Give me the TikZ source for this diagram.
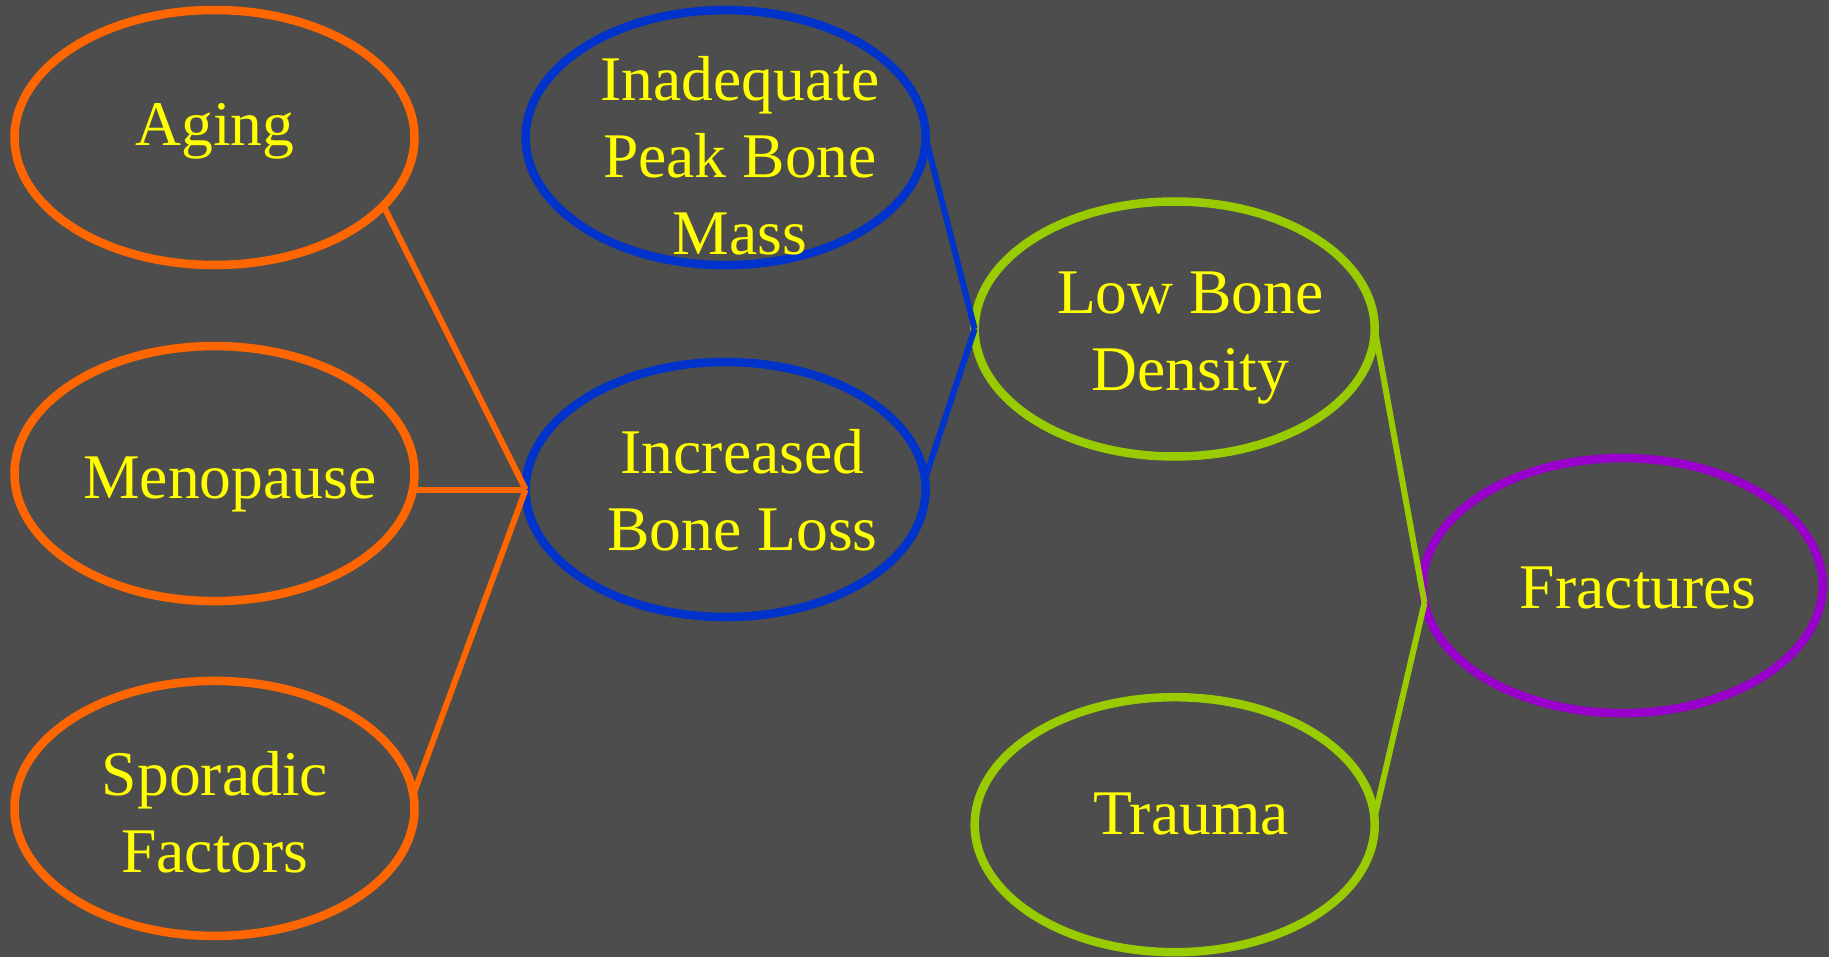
\documentclass[tikz,border=0pt]{standalone}
\usepackage{fontspec}
\setmainfont{Liberation Serif}
\usetikzlibrary{shapes.geometric}
\definecolor{bg}{HTML}{4D4D4D}
\definecolor{corange}{HTML}{FF6600}
\definecolor{cblue}{HTML}{0033CC}
\definecolor{cgreen}{HTML}{99CC00}
\definecolor{cpurple}{HTML}{9900CC}
\definecolor{ctext}{HTML}{FFFF00}
\tikzset{
  oval/.style={ellipse, draw, line width=8.5pt, inner sep=0pt, outer sep=0pt,
    minimum width=400pt, minimum height=255pt},
  lbl/.style={text=ctext, inner sep=0pt, align=center, anchor=base,
    font=\fontsize{63.6}{77}\selectfont},
  conn/.style={line width=6pt},
}
\begin{document}
\begin{tikzpicture}[x=1pt,y=-1pt]
\fill[bg] (0,0) rectangle (1829,957);
\useasboundingbox (0,0) rectangle (1829,957);
% ellipses
\node[oval, draw=corange] (aging) at (214.5,137.5) {};
\node[oval, draw=corange] (meno) at (214.5,473.6) {};
\node[oval, draw=corange] (spor) at (214.5,808.4) {};
\node[oval, draw=cblue] (inad) at (725.6,137.6) {};
\node[oval, draw=cblue] (incr) at (725.6,489.5) {};
\node[oval, draw=cgreen] (lbd) at (1174.7,329) {};
\node[oval, draw=cgreen] (trauma) at (1174.7,824.7) {};
\node[oval, draw=cpurple] (frac) at (1622.6,585.6) {};
% connectors
\draw[conn, corange] (aging.-22.4) -- (incr.west);
\draw[conn, corange] (meno.east |- incr.west) -- (incr.west);
\draw[conn, corange] (spor.4.3) -- (incr.west);
\draw[conn, cblue] (inad.east) -- (lbd.west);
\draw[conn, cblue] (incr.3) -- (lbd.west);
\draw[conn, cgreen] (lbd.east) -- (frac.-175.7);
\draw[conn, cgreen] (trauma.2.3) -- (frac.-175.7);
% labels
\node[lbl] (tAging) at (215,146) {Aging};
\node[lbl] (tMeno) at (230,498) {Menopause};
\node[lbl] (tSpor) at (215,872.5) {Sporadic\\Factors};
\node[lbl] (tInad) at (740,254.3) {Inadequate\\Peak Bone\\Mass};
\node[lbl] (tIncr) at (742.5,550.6) {Increased\\Bone Loss};
\node[lbl] (tLbd) at (1190.4,391) {Low Bone\\Density};
\node[lbl] (tTrauma) at (1191,834) {Trauma};
\node[lbl] (tFrac) at (1638.3,608) {Fractures};
\end{tikzpicture}
\end{document}
